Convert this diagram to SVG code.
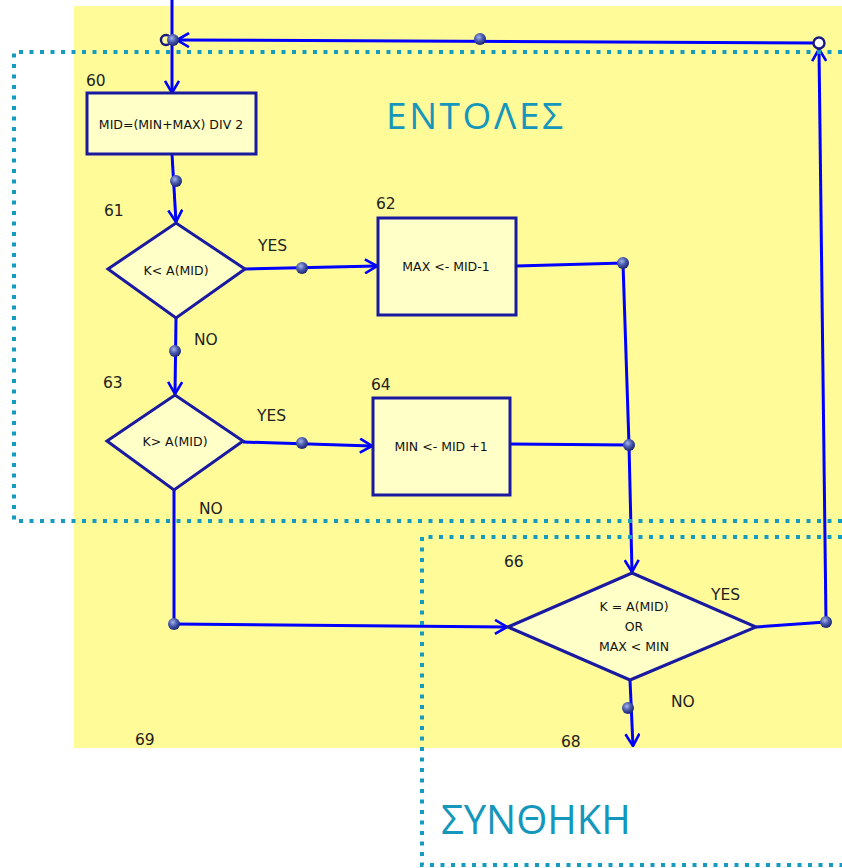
<svg xmlns="http://www.w3.org/2000/svg" width="842" height="868" viewBox="0 0 842 868">
<defs>
<radialGradient id="ball" cx="0.4" cy="0.35" r="0.65">
<stop offset="0" stop-color="#a8b4e8"/>
<stop offset="0.5" stop-color="#4a5cb0"/>
<stop offset="1" stop-color="#1a2470"/>
</radialGradient>
<marker id="arr" viewBox="0 0 14 16" refX="13" refY="8" markerWidth="14" markerHeight="16" markerUnits="userSpaceOnUse" orient="auto">
<path d="M1,1 L13,8 L1,15" fill="none" stroke="#0000ff" stroke-width="2.6"/>
</marker>
<style>
.bg{fill:#fffb98}
.node{fill:#ffffc8;stroke:#1a1aa0;stroke-width:3}
.ln{fill:none;stroke:#0000ff;stroke-width:3}
.ar{marker-end:url(#arr)}
.dot{fill:url(#ball)}
.num{font-family:"DejaVu Sans",sans-serif;font-size:15.5px;fill:#222}
.lab{font-family:"DejaVu Sans",sans-serif;font-size:15.5px;fill:#222}
.in{font-family:"DejaVu Sans",sans-serif;font-size:12.5px;fill:#111;text-anchor:middle}
.frame{fill:none;stroke:#159bc0;stroke-width:4;stroke-dasharray:4 6.5}
.big{font-family:"Open Sans","DejaVu Sans",sans-serif;fill:#1596bb}
</style>
</defs>
<rect class="bg" x="74" y="6" width="768" height="742"/>

<g id="connectors">
<path class="ln ar" d="M172,0 L172,93"/>
<path class="ln ar" d="M826,622 L819,49"/>
<path class="ln ar" d="M813,43 L177,40"/>
<path class="ln ar" d="M172,154 L176,222"/>
<path class="ln ar" d="M245,269 L377,266"/>
<path class="ln" d="M516,266 L623,263 L629,445"/>
<path class="ln ar" d="M629,445 L632,572"/>
<path class="ln ar" d="M176,318 L175,394"/>
<path class="ln ar" d="M243,442 L372,446"/>
<path class="ln" d="M510,444 L629,445"/>
<path class="ln" d="M174,490 L174,624"/>
<path class="ln ar" d="M174,624 L507,627"/>
<path class="ln" d="M756,627 L826,622"/>
<path class="ln ar" d="M630,680 L633,746"/>
<circle cx="819" cy="43" r="5.5" fill="#fff" stroke="#1a1a80" stroke-width="2.4"/>
<circle cx="166" cy="40" r="5" fill="none" stroke="#1a1a80" stroke-width="2.4"/>
<circle class="dot" cx="173" cy="40" r="6"/>
<circle class="dot" cx="480" cy="39" r="6"/>
<circle class="dot" cx="176" cy="181" r="6"/>
<circle class="dot" cx="302" cy="268" r="6"/>
<circle class="dot" cx="623" cy="263" r="6"/>
<circle class="dot" cx="175" cy="351" r="6"/>
<circle class="dot" cx="302" cy="443" r="6"/>
<circle class="dot" cx="629" cy="445" r="6"/>
<circle class="dot" cx="174" cy="624" r="6"/>
<circle class="dot" cx="826" cy="622" r="6"/>
<circle class="dot" cx="628" cy="708" r="6"/>
<text class="lab" x="258" y="251">YES</text>
<text class="lab" x="194" y="345">NO</text>
<text class="lab" x="257" y="421">YES</text>
<text class="lab" x="199" y="514">NO</text>
<text class="lab" x="711" y="600">YES</text>
<text class="lab" x="671" y="707">NO</text>
</g>

<g id="n60">
<text class="num" x="86" y="86">60</text>
<rect class="node" x="87" y="93" width="169" height="61"/>
<text class="in" x="171" y="129">MID=(MIN+MAX) DIV 2</text>
</g>
<g id="n61">
<text class="num" x="104" y="216">61</text>
<polygon class="node" points="108,269 176,223 245,269 176,318"/>
<text class="in" x="176" y="275">K&lt; A(MID)</text>
</g>
<g id="n62">
<text class="num" x="376" y="209">62</text>
<rect class="node" x="378" y="218" width="138" height="97"/>
<text class="in" x="446" y="271">MAX &lt;- MID-1</text>
</g>
<g id="n63">
<text class="num" x="103" y="388">63</text>
<polygon class="node" points="107,441 175,395 243,441 174,490"/>
<text class="in" x="175" y="446">K&gt; A(MID)</text>
</g>
<g id="n64">
<text class="num" x="371" y="390">64</text>
<rect class="node" x="373" y="398" width="137" height="97"/>
<text class="in" x="441" y="451">MIN &lt;- MID +1</text>
</g>
<g id="n66">
<text class="num" x="504" y="567">66</text>
<polygon class="node" points="508,627 632,573 756,627 630,680"/>
<text class="in" x="634" y="611">K = A(MID)</text>
<text class="in" x="634" y="631">OR</text>
<text class="in" x="634" y="651">MAX &lt; MIN</text>
</g>
<g id="n68">
<text class="num" x="561" y="747">68</text>
</g>
<g id="n69">
<text class="num" x="135" y="745">69</text>
</g>

<g id="regions">
<path class="frame" d="M842,52 L14,52 L14,521 L842,521"/>
<path class="frame" d="M842,537 L422,537 L422,865 L842,865"/>
<text class="big" x="386" y="129" font-size="37" letter-spacing="2.6">ΕΝΤΟΛΕΣ</text>
<text class="big" x="441" y="834" font-size="40">ΣΥΝΘΗΚΗ</text>
</g>
</svg>
